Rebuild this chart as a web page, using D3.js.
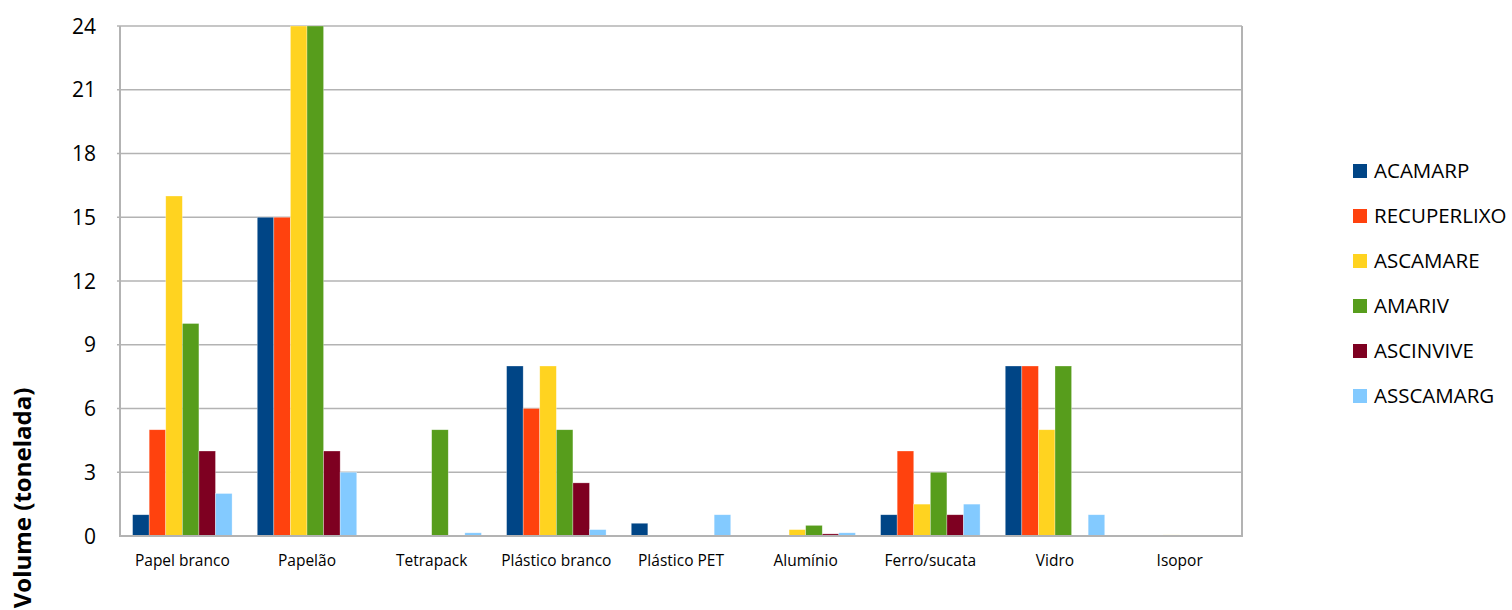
<!DOCTYPE html>
<html>
<head>
<meta charset="utf-8">
<script src="https://cdn.jsdelivr.net/npm/d3@7"></script>
<style>
  body { margin: 0; background: #fff; }
  svg { display: block; font-family: "Open Sans", sans-serif; }
</style>
</head>
<body>
<svg id="chart" width="1512" height="610"></svg>
<script>
var categories = ['Papel branco', 'Papelão', 'Tetrapack', 'Plástico branco', 'Plástico PET', 'Alumínio', 'Ferro/sucata', 'Vidro', 'Isopor'];
var seriesNames = ['ACAMARP', 'RECUPERLIXO', 'ASCAMARE', 'AMARIV', 'ASCINVIVE', 'ASSCAMARG'];
var seriesColors = ['#004586', '#ff420e', '#ffd320', '#579d1c', '#7e0021', '#83caff'];

var acamarp     = [1, 15, 0, 8, 0.6, 0, 1, 8, 0];
var recuperlixo = [5, 15, 0, 6, 0, 0, 4, 8, 0];
var ascamare    = [16, 24, 0, 8, 0, 0.3, 1.5, 5, 0.05];
var amariv      = [10, 24, 5, 5, 0, 0.5, 3, 8, 0];
var ascinvive   = [4, 4, 0, 2.5, 0, 0.1, 1, 0, 0];
var asscamarg   = [2, 3, 0.15, 0.3, 1, 0.15, 1.5, 1, 0];

var yTicks = [0, 3, 6, 9, 12, 15, 18, 21, 24];
var yTitle = 'Volume (tonelada)';

var values = [acamarp, recuperlixo, ascamare, amariv, ascinvive, asscamarg];

var svg = d3.select('#chart')
  , plotLeft = 120
  , plotRight = 1242
  , plotTop = 26
  , plotBottom = 536
  , gridColor = '#b3b3b3';

var x0 = d3.scaleBand().domain(categories).range([plotLeft, plotRight]);
var pad = x0.bandwidth() * 0.101;
var x1 = d3.scaleBand().domain(seriesNames).range([pad, x0.bandwidth() - pad]);
var y = d3.scaleLinear().domain([0, 24]).range([plotBottom, plotTop]);

// grid
svg.append('g').selectAll('line.y')
  .data(yTicks.filter(function(d) { return d > 0; }))
  .enter().append('line')
    .attr('class', 'y')
    .attr('x1', plotLeft - 3)
    .attr('x2', plotRight)
    .attr('y1', y)
    .attr('y2', y)
    .style('stroke', gridColor)
    .style('stroke-width', 1.6);

// bars
var groups = svg.append('g').selectAll('g.series')
  .data(values)
  .enter().append('g')
    .attr('class', 'series')
    .style('fill', function(d, i) { return seriesColors[i]; });

groups.selectAll('rect')
  .data(function(d, i) {
    return d.map(function(v, j) { return { s: seriesNames[i], c: categories[j], v: v }; });
  })
  .enter().append('rect')
    .filter(function(d) { return d.v > 0; })
    .attr('x', function(d) { return x0(d.c) + x1(d.s); })
    .attr('width', x1.bandwidth())
    .attr('y', function(d) { return y(d.v); })
    .attr('height', function(d) { return plotBottom - y(d.v); })
    .style('stroke', '#fff')
    .style('stroke-opacity', 0.5)
    .style('stroke-width', 0.6);

// frame
svg.append('path')
  .attr('d', 'M' + plotLeft + ',' + plotTop + 'V' + plotBottom + 'H' + plotRight + 'V' + plotTop)
  .style('fill', 'none')
  .style('stroke', gridColor)
  .style('stroke-width', 2);

// y tick labels
svg.append('g').selectAll('text')
  .data(yTicks)
  .enter().append('text')
    .attr('x', 96)
    .attr('y', y)
    .attr('dy', '0.36em')
    .attr('text-anchor', 'end')
    .style('font-size', '21px')
    .style('fill', '#000')
    .text(function(d) { return d; });

// category labels
svg.append('g').selectAll('text')
  .data(categories)
  .enter().append('text')
    .attr('x', function(d) { return x0(d) + x0.bandwidth() / 2; })
    .attr('y', 566)
    .attr('text-anchor', 'middle')
    .style('font-size', '15.5px')
    .style('fill', '#000')
    .text(function(d) { return d; });

// y title
svg.append('text')
  .attr('transform', 'translate(31,498) rotate(-90)')
  .attr('text-anchor', 'middle')
  .style('font-size', '24px')
  .style('font-weight', 'bold')
  .text(yTitle);

// legend
var legend = svg.append('g').selectAll('g.legend')
  .data(seriesNames)
  .enter().append('g')
    .attr('class', 'legend')
    .attr('transform', function(d, i) { return 'translate(1353,' + (171 + i * 45) + ')'; });

legend.append('rect')
  .attr('x', 0)
  .attr('y', -7)
  .attr('width', 14)
  .attr('height', 14)
  .style('fill', function(d, i) { return seriesColors[i]; });

legend.append('text')
  .attr('x', 21)
  .attr('dy', '0.36em')
  .style('font-size', '20.5px')
  .text(function(d) { return d; });
</script>
</body>
</html>
